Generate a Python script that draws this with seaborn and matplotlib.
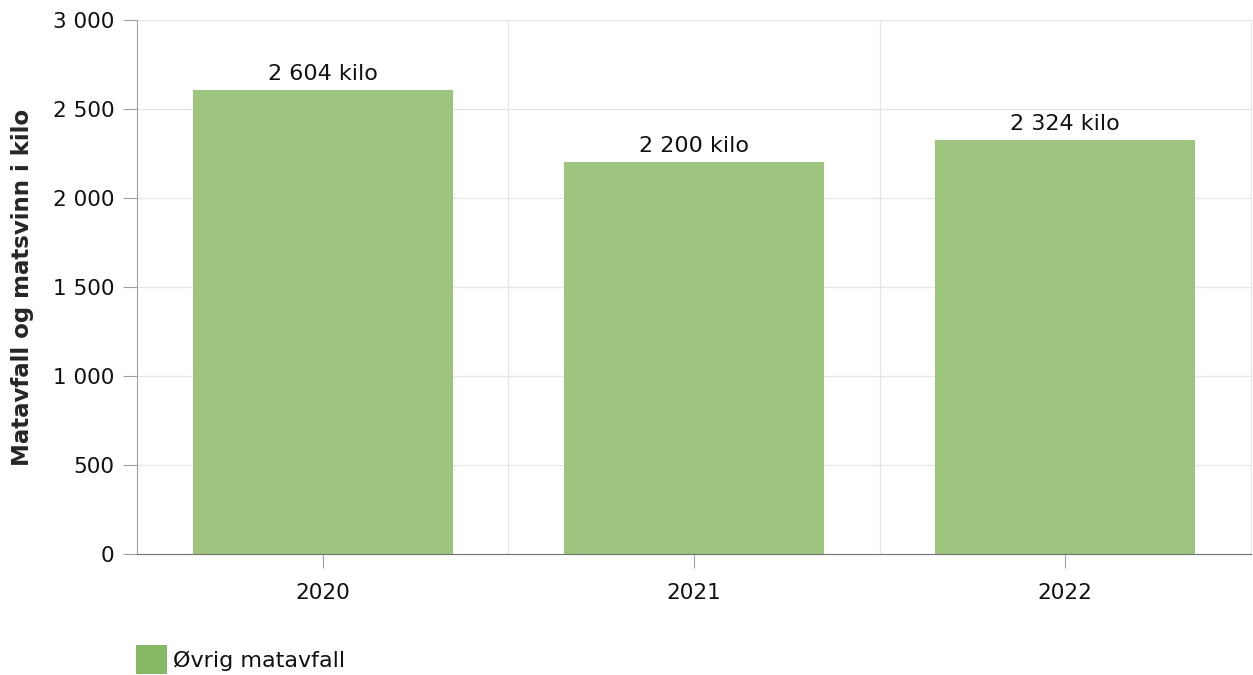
import pandas as pd
import numpy as np
import seaborn as sns
import matplotlib.pyplot as plt
from matplotlib.patches import Patch

# Data
years = ["2020", "2021", "2022"]
values = [2604, 2200, 2324]
series_name = "Øvrig matavfall"

df = pd.DataFrame({"year": years, "kilo": values, "serie": series_name})

sns.set_style("white")
plt.rcParams["font.family"] = "sans-serif"
plt.rcParams["font.sans-serif"] = ["DejaVu Sans"]
plt.rcParams["text.color"] = "#111111"
plt.rcParams["xtick.color"] = "#a0a0a0"
plt.rcParams["ytick.color"] = "#a0a0a0"
plt.rcParams["xtick.labelcolor"] = "#111111"
plt.rcParams["ytick.labelcolor"] = "#111111"

fig = plt.figure(figsize=(12.53, 6.75), dpi=100)
ax = fig.add_axes([0.1093, 0.1793, 0.889, 0.7911])

bar_color = "#9dc57f"
sns.barplot(data=df, x="year", y="kilo", color=bar_color, width=0.7,
            saturation=1, ax=ax, zorder=2, linewidth=0)

ax.set_ylim(0, 3000)
ax.set_xlim(-0.5, len(years) - 0.5)
yticks = np.arange(0, 3001, 500)
ax.set_yticks(yticks)
ax.set_yticklabels([f"{v:,}".replace(",", " ") for v in yticks])

# horizontal grid
for y in yticks[1:]:
    ax.axhline(y, color="#e6e6e6", lw=1, zorder=0)
# vertical grid at category boundaries
for x in np.arange(0.5, len(years) - 0.5, 1):
    ax.axvline(x, color="#e6e6e6", lw=1, zorder=0)

# labels over bars
for i, v in enumerate(values):
    ax.text(i, v + 35, f"{v:,} kilo".replace(",", " "), ha="center", va="bottom",
            fontsize=16)

ax.set_xlabel("")
ax.set_ylabel("Matavfall og matsvinn i kilo", fontsize=16.5, fontweight="bold",
              labelpad=14)

ax.spines["top"].set_visible(False)
ax.spines["left"].set_color("#a0a0a0")
ax.spines["bottom"].set_color("#707070")
ax.spines["right"].set_visible(True)
ax.spines["right"].set_color("#e6e6e6")

ax.tick_params(axis="y", length=10, labelsize=15.5, pad=6, left=True)
ax.tick_params(axis="x", length=10, labelsize=15.5, pad=11, bottom=True)

legend_handles = [Patch(facecolor="#86b866", edgecolor="none", label=series_name)]
fig.legend(handles=legend_handles, loc="lower left", bbox_to_anchor=(0.0926, -0.028),
           frameon=False, fontsize=16, handlelength=1.4, handleheight=1.6,
           handletextpad=0.25)

fig.savefig("out.png", dpi=100)
